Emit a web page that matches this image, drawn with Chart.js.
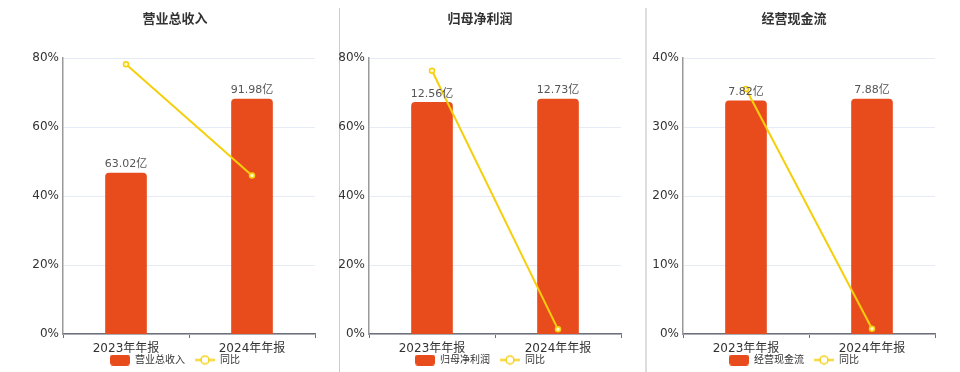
<!DOCTYPE html>
<html>
<head>
<meta charset="utf-8">
<script src="https://cdn.jsdelivr.net/npm/chart.js@4.4.1/dist/chart.umd.min.js"></script>
<style>
  html, body { margin: 0; padding: 0; background: #fff; }
  #wrap { position: relative; width: 960px; height: 372px; overflow: hidden; }
  .panel { position: absolute; top: 0; height: 375px; }
  .sep { position: absolute; top: 8px; height: 364px; }
</style>
</head>
<body>
<div id="wrap">
  <div class="sep" style="left:339px;width:1px;background:#ccc"></div>
  <div class="sep" style="left:645px;width:2px;background:#ddd"></div>
  <div class="panel" style="left:0;width:339px"><canvas id="chart1"></canvas></div>
  <div class="panel" style="left:336px;width:309px"><canvas id="chart2"></canvas></div>
  <div class="panel" style="left:647px;width:313px"><canvas id="chart3"></canvas></div>
</div>
<script>
var periods = ["2023年年报", "2024年年报"];

var revenueTitle = "营业总收入";
var revenueValues = [63.02, 91.98];
var revenueYoy = [78.2, 45.95];

var profitTitle = "归母净利润";
var profitValues = [12.56, 12.73];
var profitYoy = [76.3, 1.35];

var cashTitle = "经营现金流";
var cashValues = [7.82, 7.88];
var cashYoy = [35.5, 0.77];

var yoyLabel = "同比";
var unit = "亿";

var BAR_COLOR = "#E84C1C";
var LINE_COLOR = "#F5CF0C";
var FONT = "'DejaVu Sans', 'Noto Sans CJK SC', sans-serif";

// legend icons
function barIcon() {
  let c = document.createElement("canvas");
  c.width = 20; c.height = 11;
  let ctx = c.getContext("2d");
  ctx.fillStyle = BAR_COLOR;
  ctx.beginPath();
  ctx.roundRect(0, 0, 20, 11, 3);
  ctx.fill();
  return c;
}

function lineIcon() {
  let c = document.createElement("canvas");
  c.width = 20; c.height = 11;
  let ctx = c.getContext("2d");
  ctx.strokeStyle = LINE_COLOR;
  ctx.lineWidth = 2;
  ctx.beginPath();
  ctx.moveTo(0, 5.5); ctx.lineTo(20, 5.5);
  ctx.stroke();
  ctx.fillStyle = "#fff";
  ctx.lineWidth = 1.5;
  ctx.beginPath();
  ctx.arc(10, 5.5, 4, 0, Math.PI * 2);
  ctx.fill();
  ctx.stroke();
  return c;
}

var valueLabels = {
  id: "valueLabels",
  afterDatasetsDraw(chart) {
    let ctx = chart.ctx;
    let meta = chart.getDatasetMeta(0);
    let data = chart.data.datasets[0].data;
    ctx.save();
    ctx.font = "11px " + FONT;
    ctx.fillStyle = "#555";
    ctx.textAlign = "center";
    ctx.textBaseline = "bottom";
    meta.data.forEach(function (bar, i) {
      ctx.fillText(data[i].toFixed(2) + unit, bar.x, bar.y - 3);
    });
    ctx.restore();
  }
};

// tick labels may run outside the (squeezed) axis boxes
function noLabelClip(scale) {
  scale._computeLabelArea = function () { return undefined; };
}

function makeChart(id, title, values, yoy, yMax, yStep, padLeft, axisWidth, padRight) {
  let ctx = document.getElementById(id);
  return new Chart(ctx, {
    type: "bar",
    data: {
      labels: periods,
      datasets: [{
        type: "bar",
        label: title,
        data: values,
        yAxisID: "y1",
        backgroundColor: BAR_COLOR,
        borderRadius: 4,
        barThickness: 41,
        order: 2
      }, {
        type: "line",
        label: yoyLabel,
        data: yoy,
        yAxisID: "y",
        borderColor: LINE_COLOR,
        borderWidth: 2,
        pointRadius: 2.5,
        pointBorderWidth: 1.5,
        pointBorderColor: LINE_COLOR,
        pointBackgroundColor: "#fff8c8",
        tension: 0,
        order: 1
      }]
    },
    options: {
      responsive: true,
      maintainAspectRatio: false,
      animation: false,
      layout: { padding: { left: padLeft, right: padRight, top: 0, bottom: 0 } },
      plugins: {
        title: {
          display: true,
          text: title,
          color: "#333",
          font: { family: FONT, size: 13, weight: "bold" },
          padding: { top: 12, bottom: 30.4 }
        },
        legend: {
          position: "bottom",
          labels: {
            usePointStyle: true,
            pointStyleWidth: 20,
            padding: 10,
            color: "#333",
            font: { family: FONT, size: 10 },
            generateLabels: function (chart) {
              return [
                { text: title, pointStyle: barIcon(), datasetIndex: 0, fontColor: "#333", lineWidth: 0 },
                { text: yoyLabel, pointStyle: lineIcon(), datasetIndex: 1, fontColor: "#333", lineWidth: 0 }
              ];
            }
          }
        },
        tooltip: { enabled: false }
      },
      scales: {
        x: {
          grid: { display: true, drawOnChartArea: false, drawTicks: true, tickLength: 4, color: "#6E7079" },
          border: { color: "#6E7079", width: 1.5 },
          ticks: { color: "#333", font: { family: FONT, size: 12 }, padding: 4 },
          afterFit: function (scale) { scale.height = 11; noLabelClip(scale); }
        },
        y: {
          position: "left",
          min: 0,
          max: yMax,
          ticks: {
            stepSize: yStep,
            color: "#333",
            padding: 4,
            font: { family: FONT, size: 12 },
            callback: function (v) { return v + "%"; }
          },
          grid: { color: "#E6EBF5", drawTicks: false },
          border: { color: "#999", width: 1.5 },
          afterFit: function (scale) { scale.width = axisWidth; noLabelClip(scale); }
        },
        y1: {
          display: false,
          min: 0,
          max: Math.max.apply(null, values) / 0.851
        }
      }
    },
    plugins: [valueLabels]
  });
}

makeChart("chart1", revenueTitle, revenueValues, revenueYoy, 80, 20, 35, 28, 24);
makeChart("chart2", profitTitle, profitValues, profitYoy, 80, 20, 3, 30, 24);
makeChart("chart3", cashTitle, cashValues, cashYoy, 40, 10, 6, 30, 25);
</script>
</body>
</html>
